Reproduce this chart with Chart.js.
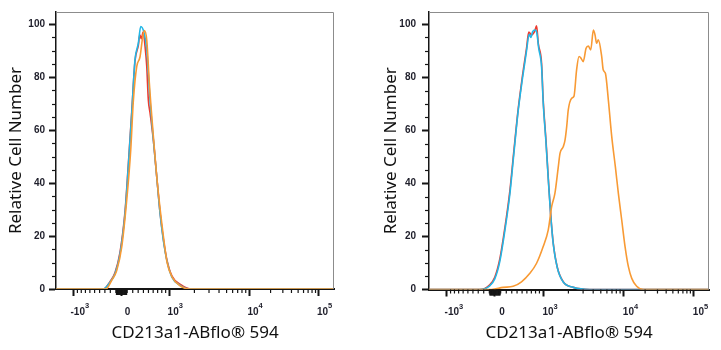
<!DOCTYPE html>
<html>
<head>
<meta charset="utf-8">
<script src="https://cdn.jsdelivr.net/npm/chart.js@4.4.0/dist/chart.umd.min.js"></script>
<style>
  html, body { margin: 0; padding: 0; background: #fff; }
  #wrap { position: relative; width: 721px; height: 350px; }
  canvas { position: absolute; top: 0; }
</style>
</head>
<body>
<div id="wrap">
  <canvas id="panelA" width="360" height="350" style="left:0"></canvas>
  <canvas id="panelB" width="361" height="350" style="left:360px"></canvas>
</div>
<script>
// Flow histograms, CD213a1-ABflo 594 (left: negative cells, right: positive cells)

// tick values / labels (label = base + superscript exponent)
const xMajorTicks = [-1000, 0, 1000, 10000, 100000];
const xTickBase = ['-10', '0', '10', '10', '10'];
const xTickExp = ['3', '', '3', '4', '5'];
const yMajorTicks = [0, 20, 40, 60, 80, 100];

// left panel
const leftRedX = [-1630, -329, -205, -115, -27, 62, 120, 182, 241, 303, 330, 360, 395, 430, 466, 498, 533, 605, 680, 758, 840, 931, 1078, 1380, 1800, 168000];
const leftRedY = [0, 0, 2.8, 6.2, 13.8, 29.2, 46.8, 66.8, 86, 92, 96, 94.5, 97, 92, 84, 71.4, 66.6, 56, 42.3, 28.8, 18.8, 11.2, 5, 1.6, 0, 0];
const leftCyanX = [-1630, -329, -205, -115, -27, 62, 120, 182, 241, 303, 348, 413, 466, 533, 605, 680, 758, 840, 931, 1078, 1355, 1780, 168000];
const leftCyanY = [0, 0, 2.6, 5.8, 13.2, 28.5, 46.1, 66.3, 86.5, 92.8, 99.1, 96.7, 90.3, 71.3, 56.2, 42.3, 28.5, 18.4, 10.9, 4.5, 1.4, 0, 0];
const leftOrangeX = [-1630, -279, -175, -85, 4, 92, 164, 211, 273, 335, 387, 419, 466, 519, 605, 694, 840, 939, 1086, 1355, 1780, 168000];
const leftOrangeY = [0, 0, 3.3, 7, 15.9, 33.5, 52.5, 71, 84, 87.7, 95.3, 97.6, 94, 77.7, 57.5, 40, 20, 10, 4.5, 1.2, 0, 0];

// right panel
const rightRedX = [-1630, -272, -92, -4, 85, 173, 264, 338, 422, 500, 593, 642, 706, 783, 826, 869, 958, 1004, 1086, 1156, 1235, 1329, 1479, 1739, 2289, 3640, 168000];
const rightRedY = [0, 0, 1.8, 4.6, 11.5, 23, 37, 52, 68, 79.5, 91, 97, 96, 97.5, 99.4, 92.8, 85.3, 71.4, 56.3, 42.5, 28.7, 17.4, 8.5, 2.9, 0.8, 0, 0];
const rightCyanX = [-1630, -272, -92, -4, 85, 173, 264, 338, 422, 500, 593, 650, 690, 730, 790, 835, 880, 958, 1004, 1086, 1156, 1235, 1329, 1479, 1739, 2289, 3640, 168000];
const rightCyanY = [0, 0, 1.4, 4, 10.6, 22, 35.8, 51, 67.4, 78.6, 90, 96.2, 95, 97.2, 97.8, 96.5, 91, 84, 70.5, 55.5, 42, 28.5, 17, 8.3, 2.8, 0.8, 0, 0];
const rightOrangeX = [-1630, -62, 143, 326, 488, 666, 826, 1004, 1156, 1271, 1389, 1522, 1594, 1739, 1825, 1910, 1993, 2188, 2330, 2503, 2677, 2830, 3009, 3262, 3476, 3724, 4022, 4217, 4416, 4650, 5137, 5371, 5736, 6270, 6951, 7771, 8523, 9474, 10508, 11678, 12993, 15211, 18850, 168000];
const rightOrangeY = [0, 0, 0.8, 1.2, 2.9, 6.1, 9.9, 16.2, 22.4, 31.2, 36.2, 46.2, 51.3, 53.8, 56.3, 61.4, 67.7, 72.1, 72.9, 82.8, 87.8, 87.2, 85.9, 90.9, 91.8, 90.3, 97.8, 96.0, 92.8, 94.1, 87.8, 82.8, 81.5, 71.4, 57.6, 46.2, 36.2, 26.1, 16.2, 8.6, 4.2, 1.2, 0, 0];

const RED = '#ee3a2e';
const CYAN = '#22b6e6';
const ORANGE = '#f89a34';
const TICK_FONT = 'Liberation Sans, Arial, sans-serif';

// minor tick values for the biexponential axis
const xMinorTicks = [];
[10, 100].forEach(d => {
    for (let m = 1; m <= 9; m++) {
        if (m * d === 1000) continue;
        xMinorTicks.push(m * d, -m * d);
    }
});
[1000, 10000].forEach(d => {
    for (let m = 2; m <= 9; m++) xMinorTicks.push(m * d);
});
const yMinorTicks = [];
for (let v = 5; v < 104; v += 5) if (v % 20 !== 0) yMinorTicks.push(v);

// biexponential (logicle-like) display transform
const BIEX = { decades: 4.14, zero: 0.2357, k: 114.8, p: 3.5 };

function biexValue(u) {
    const a = Math.abs(u), p = BIEX.p;
    const v = BIEX.k * (Math.pow(10, a) - p * p * Math.pow(10, -a / p) + p * p - 1);
    return u < 0 ? -v : v;
}

function biexDecimal(x) {
    let lo = -8, hi = 8;
    for (let i = 0; i < 60; i++) {
        const mid = (lo + hi) / 2;
        if (biexValue(mid) < x) lo = mid; else hi = mid;
    }
    return BIEX.zero + (lo + hi) / 2 / BIEX.decades;
}

class BiexScale extends Chart.Scale {
    determineDataLimits() {
        this.min = biexValue(-BIEX.zero * BIEX.decades);
        this.max = biexValue((1 - BIEX.zero) * BIEX.decades);
    }
    buildTicks() {
        return xMajorTicks.map(v => ({ value: v }));
    }
    getLabelForValue(value) {
        return String(Math.round(value));
    }
    getPixelForValue(value) {
        return this.getPixelForDecimal(biexDecimal(value));
    }
    getValueForPixel(pixel) {
        return biexValue((this.getDecimalForPixel(pixel) - BIEX.zero) * BIEX.decades);
    }
}
BiexScale.id = 'biex';
BiexScale.defaults = {};
Chart.register(BiexScale);

// top/right frame, minor ticks and the power-of-ten labels
const axisDecor = {
    id: 'axisDecor',
    afterDraw(chart, args, opts) {
        const { ctx, chartArea: a } = chart;
        const x = chart.scales.x, y = chart.scales.y;
        ctx.save();
        ctx.strokeStyle = '#8c8c8c';
        ctx.lineWidth = 1;
        ctx.beginPath();
        ctx.moveTo(a.left, a.top + 0.5);
        ctx.lineTo(a.right - 0.5, a.top + 0.5);
        ctx.lineTo(a.right - 0.5, a.bottom);
        ctx.stroke();

        ctx.strokeStyle = '#151515';
        ctx.lineWidth = 1.2;
        xMinorTicks.forEach(v => {
            const px = x.getPixelForValue(v);
            const len = Math.abs(v) < 100 ? 6 : 4;
            ctx.beginPath();
            ctx.moveTo(px, a.bottom);
            ctx.lineTo(px, a.bottom + len);
            ctx.stroke();
        });
        yMinorTicks.forEach(v => {
            const py = Math.round(y.getPixelForValue(v)) + 0.5;
            ctx.beginPath();
            ctx.moveTo(a.left - 4, py);
            ctx.lineTo(a.left, py);
            ctx.stroke();
        });

        ctx.fillStyle = '#1e1e2a';
        ctx.textBaseline = 'middle';
        ctx.textAlign = 'left';
        const baseFont = 'bold 10px ' + TICK_FONT;
        const expFont = 'bold 7.5px ' + TICK_FONT;
        xMajorTicks.forEach((v, i) => {
            ctx.font = baseFont;
            const wb = ctx.measureText(xTickBase[i]).width;
            ctx.font = expFont;
            const we = xTickExp[i] ? ctx.measureText(xTickExp[i]).width : 0;
            const cx = x.getPixelForValue(v) + opts.shift;
            const left = cx - (wb + we) / 2;
            const cy = a.bottom + 23;
            ctx.font = baseFont;
            ctx.fillText(xTickBase[i], left, cy);
            if (we) {
                ctx.font = expFont;
                ctx.fillText(xTickExp[i], left + wb, cy - 6);
            }
        });
        ctx.restore();
    }
};

function toPoints(xs, ys) {
    return xs.map((v, i) => ({ x: v, y: ys[i] }));
}

function line(label, xs, ys, color) {
    return {
        label: label,
        data: toPoints(xs, ys),
        borderColor: color,
        borderWidth: 1.6,
        pointRadius: 0,
        fill: false,
        tension: 0.3,
        cubicInterpolationMode: 'monotone'
    };
}

function makePanel(id, datasets, box) {
    new Chart(document.getElementById(id), {
        type: 'line',
        data: { datasets: datasets },
        options: {
            responsive: false,
            animation: false,
            devicePixelRatio: 1,
            layout: { padding: { left: box.padLeft, right: box.padRight, top: 12, bottom: 0 } },
            plugins: {
                legend: { display: false },
                tooltip: { enabled: false },
                axisDecor: { shift: box.labelShift }
            },
            scales: {
                x: {
                    type: 'biex',
                    position: 'bottom',
                    afterFit: s => { s.height = 350 - box.bottom; },
                    grid: { drawOnChartArea: false, drawTicks: true, tickLength: 7, tickWidth: 2, tickColor: '#151515' },
                    border: { display: true, color: '#151515', width: 2 },
                    ticks: { display: false, autoSkip: false, maxRotation: 0 },
                    title: {
                        display: true,
                        text: 'CD213a1-ABflo® 594',
                        color: '#111',
                        font: { family: 'Noto Sans, Open Sans, sans-serif', size: 17 },
                        padding: { top: 0, bottom: 7 }
                    }
                },
                y: {
                    type: 'linear',
                    min: 0,
                    max: 104.6,
                    afterFit: s => { s.width = box.left - box.padLeft; },
                    grid: { drawOnChartArea: false, drawTicks: true, tickLength: 7, tickWidth: 2, tickColor: '#151515' },
                    border: { display: true, color: '#151515', width: 1.5 },
                    afterBuildTicks: s => { s.ticks = yMajorTicks.map(v => ({ value: v })); },
                    ticks: {
                        padding: box.yPad,
                        color: '#1e1e2a',
                        font: { family: TICK_FONT, size: 10, weight: 'bold' }
                    },
                    title: {
                        display: true,
                        text: 'Relative Cell Number',
                        color: '#111',
                        font: { family: 'Noto Sans, Open Sans, sans-serif', size: 17 },
                        padding: { top: box.titlePad, bottom: 0 }
                    }
                }
            }
        },
        plugins: [axisDecor]
    });
}

makePanel('panelA', [
    line('CD213a1-ABflo 594', leftOrangeX, leftOrangeY, ORANGE),
    line('Isotype control', leftCyanX, leftCyanY, CYAN),
    line('Blank', leftRedX, leftRedY, RED)
], { padLeft: 0, padRight: 26, left: 56, bottom: 289, titlePad: 6, yPad: 4, labelShift: 6 });

makePanel('panelB', [
    line('CD213a1-ABflo 594', rightOrangeX, rightOrangeY, ORANGE),
    line('Isotype control', rightCyanX, rightCyanY, CYAN),
    line('Blank', rightRedX, rightRedY, RED)
], { padLeft: 21, padRight: 12, left: 69, bottom: 289.5, titlePad: 0, yPad: 6, labelShift: 7 });
</script>
</body>
</html>
